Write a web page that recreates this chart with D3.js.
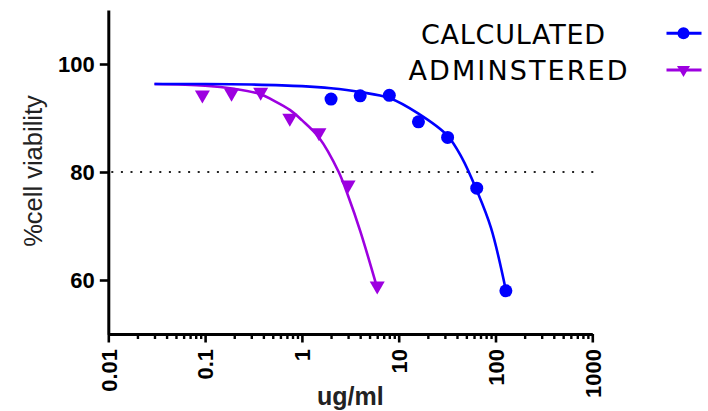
<!DOCTYPE html>
<html>
<head>
<meta charset="utf-8">
<script src="https://cdn.jsdelivr.net/npm/d3@7"></script>
<style>
  html, body { margin: 0; padding: 0; background: #fff; }
  svg { display: block; }
</style>
</head>
<body>
<svg id="chart" width="708" height="411"></svg>
<script>
// ---- data ----
const seriesNames = ["CALCULATED", "ADMINSTERED"];
const calcDose = [2, 4, 8, 16, 32, 64, 128];
const calcViability = [93.5, 94.1, 94.2, 89.3, 86.4, 77.0, 58.0];
const admDose = [0.09375, 0.1875, 0.375, 0.75, 1.5, 3, 6];
const admViability = [93.9, 94.2, 94.4, 89.6, 86.9, 77.2, 58.5];
// fitted curves
const calcFitDose = [0.03, 0.1, 0.3, 1, 2, 4, 8, 16, 32, 45, 64, 90, 128];
const calcFitViability = [96.3, 96.3, 96.2, 95.9, 95.5, 94.8, 93.7, 90.8, 86.7, 82.6, 76.6, 69.6, 58.1];
const admFitDose = [0.03, 0.1, 0.2, 0.375, 0.5, 0.75, 1, 1.5, 2.4, 3, 4, 6];
const admFitViability = [96.3, 96.0, 95.4, 94.4, 93.3, 91.5, 89.6, 86.4, 80.0, 75.6, 69.1, 58.5];
const xTicks = [0.01, 0.1, 1, 10, 100, 1000];
const xTickLabels = ["0.01", "0.1", "1", "10", "100", "1000"];
const yTicks = [60, 80, 100];
const threshold = 80;
const xDomain = [0.01, 1000];
const yDomain = [50, 110];

// ---- layout ----
const svg = d3.select("#chart");
const mLeft = 108.3, mRight = 592.3, mTop = 10, mBottom = 334;
const blue = "#0000ff", purple = "#9d00e0";

const x = d3.scaleLog().domain(xDomain).range([mLeft, mRight]);
const y = d3.scaleLinear().domain(yDomain).range([mBottom, mTop]);

// minor ticks
const minorTicks = [];
for (let d = 0; d < xTicks.length - 1; d++) {
  for (let m = 2; m <= 9; m++) minorTicks.push(xTicks[d] * m);
}

// threshold dotted line
svg.append("line")
  .attr("x1", mLeft + 3).attr("x2", mRight + 1)
  .attr("y1", y(threshold)).attr("y2", y(threshold))
  .attr("stroke", "#222").attr("stroke-width", 2.2)
  .attr("stroke-dasharray", "2 7.6");

// x axis minor
svg.append("g").attr("transform", `translate(0,${mBottom})`)
  .call(d3.axisBottom(x).tickValues(minorTicks).tickSize(5).tickSizeOuter(0).tickFormat(""))
  .call(g => g.select(".domain").remove())
  .call(g => g.selectAll(".tick line").attr("stroke", "#000").attr("stroke-width", 2.4));

// x axis major
const xAxis = svg.append("g").attr("transform", `translate(0,${mBottom})`)
  .call(d3.axisBottom(x).tickValues(xTicks).tickSize(8.5).tickSizeOuter(0)
    .tickFormat((d, i) => xTickLabels[i]));
xAxis.select(".domain").attr("stroke", "#000").attr("stroke-width", 3);
xAxis.selectAll(".tick line").attr("stroke", "#000").attr("stroke-width", 2.6);
xAxis.selectAll(".tick text")
  .attr("transform", "rotate(-90)")
  .attr("text-anchor", "end")
  .attr("x", -15).attr("y", 0).attr("dy", "0.35em")
  .attr("fill", "#000")
  .style("font-family", "'Liberation Sans', Arial, sans-serif")
  .style("font-weight", "bold").style("font-size", "22px");

// y axis
const yAxis = svg.append("g").attr("transform", `translate(${mLeft},0)`)
  .call(d3.axisLeft(y).tickValues(yTicks).tickSize(8.5).tickSizeOuter(0).tickPadding(5));
yAxis.select(".domain").attr("stroke", "#000").attr("stroke-width", 3);
yAxis.selectAll(".tick line").attr("stroke", "#000").attr("stroke-width", 2.6);
yAxis.selectAll(".tick text")
  .attr("fill", "#000")
  .style("font-family", "'Liberation Sans', Arial, sans-serif")
  .style("font-weight", "bold").style("font-size", "22px");

// axis titles
svg.append("text")
  .attr("transform", "translate(42,171) rotate(-90)")
  .attr("text-anchor", "middle")
  .style("font-family", "'Liberation Sans', Arial, sans-serif")
  .style("font-size", "25.5px").attr("fill", "#222")
  .text("%cell viability");

svg.append("text")
  .attr("x", (mLeft + mRight) / 2).attr("y", 405)
  .attr("text-anchor", "middle")
  .style("font-family", "'Liberation Sans', Arial, sans-serif")
  .style("font-weight", "bold").style("font-size", "25px").attr("fill", "#222")
  .text("ug/ml");

// curves
const line = d3.line().x(d => x(d[0])).y(d => y(d[1])).curve(d3.curveCatmullRom.alpha(0.5));
const calcFit = calcFitDose.map((d, i) => [d, calcFitViability[i]]);
const admFit = admFitDose.map((d, i) => [d, admFitViability[i]]);

svg.append("path").attr("d", line(admFit))
  .attr("fill", "none").attr("stroke", purple).attr("stroke-width", 2.6);
svg.append("path").attr("d", line(calcFit))
  .attr("fill", "none").attr("stroke", blue).attr("stroke-width", 2.6);

// points
const tri = "M-7.5,-6.5L7.5,-6.5L0,6.5Z";
svg.append("g").selectAll("path")
  .data(admDose.map((d, i) => [d, admViability[i]]))
  .join("path")
  .attr("d", tri)
  .attr("transform", d => `translate(${x(d[0])},${y(d[1])})`)
  .attr("fill", purple);

svg.append("g").selectAll("circle")
  .data(calcDose.map((d, i) => [d, calcViability[i]]))
  .join("circle")
  .attr("cx", d => x(d[0])).attr("cy", d => y(d[1]))
  .attr("r", 6.5).attr("fill", blue);

// legend
const legend = [
  { name: seriesNames[0], color: blue, sym: "circle", tx: 421, ty: 43.5, len: 184 },
  { name: seriesNames[1], color: purple, sym: "tri", tx: 408.5, ty: 79.5, len: 219 }
];
const lg = svg.append("g");
legend.forEach((L, i) => {
  lg.append("text")
    .attr("x", L.tx).attr("y", L.ty)
    .attr("textLength", L.len).attr("lengthAdjust", "spacing")
    .style("font-family", "'DejaVu Sans', Verdana, sans-serif")
    .style("font-size", "27px").attr("fill", "#000")
    .text(L.name);
  const sy = i === 0 ? 33.3 : 70;
  lg.append("line").attr("x1", 666.5).attr("x2", 701.5)
    .attr("y1", sy).attr("y2", sy)
    .attr("stroke", L.color).attr("stroke-width", 3);
  if (L.sym === "circle") {
    lg.append("circle").attr("cx", 683.5).attr("cy", sy).attr("r", 6).attr("fill", L.color);
  } else {
    lg.append("path").attr("d", "M-6.5,-5L6.5,-5L0,6Z")
      .attr("transform", `translate(683.5,${sy + 1})`).attr("fill", L.color);
  }
});
</script>
</body>
</html>
